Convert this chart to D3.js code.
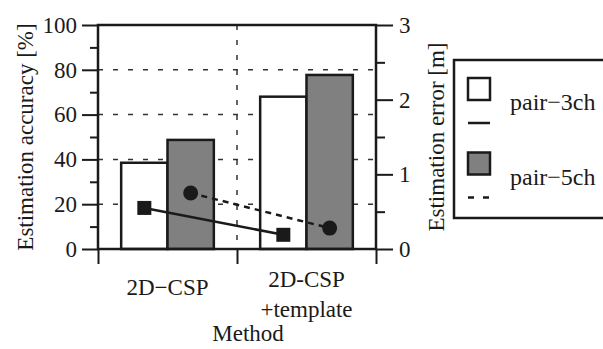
<!DOCTYPE html>
<html>
<head>
<meta charset="utf-8">
<script src="https://cdn.jsdelivr.net/npm/d3@7"></script>
<style>
  body { margin: 0; }
  text, tspan { font-family: 'Liberation Serif', 'DejaVu Serif', serif !important; }
</style>
</head>
<body>
<div class="svg"></div>
<script>
var methods = ['2D\u2212CSP', '2D-CSP\n+template'];
var seriesNames = ['pair\u22123ch', 'pair\u22125ch'];
var accuracy3ch = [38.5, 68.0];
var accuracy5ch = [48.7, 77.7];
var error3ch = [0.55, 0.19];
var error5ch = [0.75, 0.28];
var accTicks = [0, 20, 40, 60, 80, 100];
var accMinor = [10, 30, 50, 70, 90];
var errTicks = [0, 1, 2, 3];
var errMinor = [0.5, 1.5, 2.5];

var width = 603, height = 349;
var margins = { top: 25, bottom: 100, left: 98, right: 227 };
var w = width - margins.left - margins.right;
var h = height - margins.top - margins.bottom;
var ink = '#1a1a1a';
var gray = '#808080';
var serif = 'Liberation Serif';

var svg = d3.select('div.svg').append('svg')
    .attr('width', width)
    .attr('height', height)
    .attr('font-family', serif);

var chart = svg.append('g')
    .attr('transform', 'translate(' + margins.left + ',' + margins.top + ')');

var xScale = d3.scaleBand().domain(methods).range([0, w]);
var inner = d3.scaleBand().domain(seriesNames).range([0, xScale.bandwidth()]).paddingOuter(0.5);
var yAcc = d3.scaleLinear().domain([0, 100]).range([h, 0]);
var yErr = d3.scaleLinear().domain([0, 3]).range([h, 0]);

// grid
chart.append('g').selectAll('line')
    .data(accTicks.slice(1, -1))
    .enter().append('line')
    .attr('x1', 0).attr('x2', w)
    .attr('y1', function (d) { return yAcc(d); })
    .attr('y2', function (d) { return yAcc(d); })
    .attr('stroke', '#333').attr('stroke-width', 1.5)
    .attr('stroke-dasharray', '5,10');

chart.append('g').selectAll('line')
    .data(methods.slice(1))
    .enter().append('line')
    .attr('x1', function (d) { return xScale(d); })
    .attr('x2', function (d) { return xScale(d); })
    .attr('y1', 0).attr('y2', h)
    .attr('stroke', '#333').attr('stroke-width', 1.5)
    .attr('stroke-dasharray', '5,10');

// bars
var accSeries = [accuracy3ch, accuracy5ch];
var fills = ['#ffffff', gray];
seriesNames.forEach(function (s, si) {
    chart.append('g').selectAll('rect')
        .data(accSeries[si])
        .enter().append('rect')
        .attr('x', function (d, i) { return xScale(methods[i]) + inner(s); })
        .attr('y', function (d) { return yAcc(d); })
        .attr('width', inner.bandwidth())
        .attr('height', function (d) { return h - yAcc(d); })
        .attr('fill', fills[si])
        .attr('stroke', ink)
        .attr('stroke-width', 2.5);
});

// error lines + markers
var cx = function (s) {
    return function (d, i) { return xScale(methods[i]) + inner(s) + inner.bandwidth() / 2; };
};
var line3 = d3.line().x(cx(seriesNames[0])).y(function (d) { return yErr(d); });
var line5 = d3.line().x(cx(seriesNames[1])).y(function (d) { return yErr(d); });

chart.append('path').attr('d', line3(error3ch))
    .attr('fill', 'none').attr('stroke', ink).attr('stroke-width', 2.5);
chart.append('path').attr('d', line5(error5ch))
    .attr('fill', 'none').attr('stroke', ink).attr('stroke-width', 2.5)
    .attr('stroke-dasharray', '6,5');

var sq = 14;
chart.append('g').selectAll('rect')
    .data(error3ch)
    .enter().append('rect')
    .attr('x', function (d, i) { return cx(seriesNames[0])(d, i) - sq / 2; })
    .attr('y', function (d) { return yErr(d) - sq / 2; })
    .attr('width', sq).attr('height', sq)
    .attr('fill', ink);

chart.append('g').selectAll('circle')
    .data(error5ch)
    .enter().append('circle')
    .attr('cx', cx(seriesNames[1]))
    .attr('cy', function (d) { return yErr(d); })
    .attr('r', 7.5)
    .attr('fill', ink);

// frame
chart.append('rect')
    .attr('width', w).attr('height', h)
    .attr('fill', 'none').attr('stroke', ink).attr('stroke-width', 2.5);

// axes
var axes = [
    chart.append('g').call(d3.axisLeft(yAcc).tickValues(accTicks).tickSize(16).tickPadding(5)),
    chart.append('g').call(d3.axisLeft(yAcc).tickValues(accMinor).tickSize(8).tickFormat('')),
    chart.append('g').attr('transform', 'translate(' + w + ',0)')
        .call(d3.axisRight(yErr).tickValues(errTicks).tickSize(17).tickPadding(6).tickFormat(d3.format('d'))),
    chart.append('g').attr('transform', 'translate(' + w + ',0)')
        .call(d3.axisRight(yErr).tickValues(errMinor).tickSize(9).tickFormat(''))
];
var xLin = d3.scaleLinear().domain([0, methods.length]).range([0, w]);
axes.push(chart.append('g')
    .attr('transform', 'translate(0,' + h + ')')
    .call(d3.axisBottom(xLin).tickValues(d3.range(methods.length + 1)).tickSize(15).tickFormat('')));
axes.forEach(function (a) {
    a.attr('font-family', serif).attr('font-size', 23);
});

chart.selectAll('.domain').remove();
chart.selectAll('.tick line').attr('stroke', ink).attr('stroke-width', 2);
chart.selectAll('.tick text').attr('fill', ink);

// category labels
chart.append('g').selectAll('text')
    .data(methods)
    .enter().append('text')
    .attr('text-anchor', 'middle')
    .attr('font-size', 23)
    .attr('font-family', serif)
    .attr('fill', ink)
    .attr('transform', function (d) {
        var n = d.split('\n').length;
        return 'translate(' + (xScale(d) + xScale.bandwidth() / 2) + ',' + (h + (n === 1 ? 46 : 38)) + ')';
    })
    .each(function (d) {
        var t = d3.select(this);
        d.split('\n').forEach(function (ln, i) {
            t.append('tspan').attr('x', 0).attr('y', i * 30).text(ln);
        });
    });

// axis titles
var titles = [
    { text: 'Method', x: w / 2 + 11, y: h + 92, rot: 0 },
    { text: 'Estimation accuracy [%]', x: 33 - margins.left, y: h / 2, rot: -90 },
    { text: 'Estimation error [m]', x: 444 - margins.left, y: h / 2, rot: -90 }
];
chart.append('g').selectAll('text')
    .data(titles)
    .enter().append('text')
    .attr('transform', function (d) { return 'translate(' + d.x + ',' + d.y + ') rotate(' + d.rot + ')'; })
    .attr('text-anchor', 'middle')
    .attr('font-size', 23)
    .attr('font-family', serif)
    .attr('fill', ink)
    .text(function (d) { return d.text; });

// legend
var legend = svg.append('g').attr('transform', 'translate(454,60)');
legend.append('rect')
    .attr('width', 170).attr('height', 158)
    .attr('fill', '#fff').attr('stroke', ink).attr('stroke-width', 2.5);
var dashes = [null, '6,9'];
var items = legend.selectAll('g.item')
    .data(seriesNames)
    .enter().append('g')
    .attr('transform', function (d, i) { return 'translate(14,' + (18 + i * 74.5) + ')'; });
items.append('rect')
    .attr('width', 22).attr('height', 22)
    .attr('fill', function (d, i) { return fills[i]; })
    .attr('stroke', ink).attr('stroke-width', 2.5);
items.append('line')
    .attr('x1', 0).attr('x2', 22)
    .attr('y1', 45).attr('y2', 45)
    .attr('stroke', ink).attr('stroke-width', 2.5)
    .attr('stroke-dasharray', function (d, i) { return dashes[i]; });
items.append('text')
    .attr('x', 42).attr('y', 32)
    .attr('font-size', 24)
    .attr('font-family', serif)
    .attr('fill', ink)
    .text(function (d) { return d; });
</script>
</body>
</html>
